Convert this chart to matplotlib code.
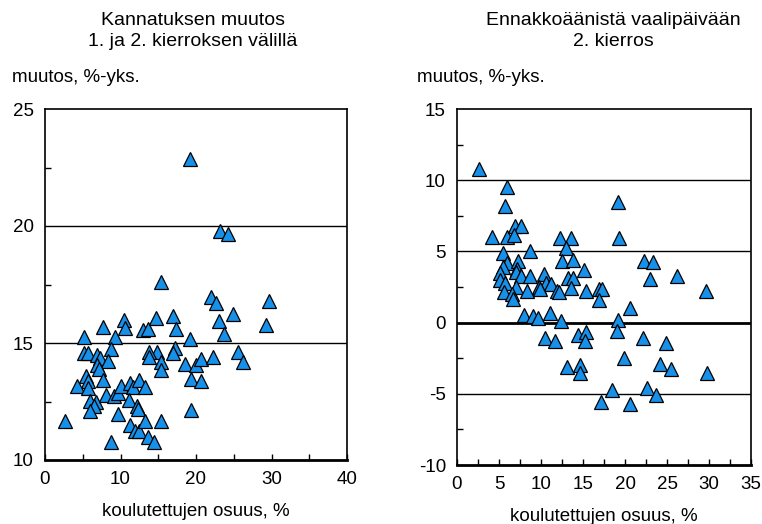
import numpy as np
import matplotlib
matplotlib.use('Agg')
import matplotlib.pyplot as plt

plt.rcParams['font.family'] = ['Liberation Sans', 'DejaVu Sans']
plt.rcParams['axes.unicode_minus'] = False

# Left panel: change in support between 1st and 2nd round
left_x = [19.2, 23.2, 24.2, 15.4, 22.0, 22.6, 29.7, 24.9, 23.1, 29.3,
          23.7, 19.2, 5.2, 7.7, 9.3, 10.5, 10.6, 13.0, 13.6, 14.7,
          16.9, 17.3, 17.2, 17.0, 14.8, 13.8, 13.8, 15.3, 15.4, 18.5,
          20.0, 20.7, 22.3, 25.5, 26.2, 19.3, 20.7, 19.3, 5.1, 5.7,
          6.9, 7.3, 8.7, 8.3, 6.9, 7.1, 5.4, 5.7, 4.2, 5.7,
          7.7, 5.9, 6.8, 6.5, 5.9, 8.1, 9.2, 9.7, 10.0, 11.2,
          11.7, 12.5, 13.3, 11.1, 12.2, 12.3, 9.7, 11.3, 11.9, 12.4,
          13.2, 15.3, 2.7, 8.7, 13.6, 14.5]
left_y = [22.87, 19.77, 19.67, 17.6, 16.97, 16.7, 16.8, 16.26, 15.94, 15.78,
          15.37, 15.18, 15.27, 15.67, 15.24, 15.97, 15.63, 15.55, 15.6, 16.05,
          16.15, 15.6, 14.77, 14.56, 14.63, 14.63, 14.42, 14.2, 13.85, 14.12,
          14.06, 14.3, 14.4, 14.63, 14.2, 13.45, 13.38, 12.13, 14.56, 14.56,
          14.47, 14.37, 14.73, 14.23, 14.06, 13.9, 13.6, 13.38, 13.17, 13.08,
          13.4, 12.53, 12.46, 12.32, 12.1, 12.78, 12.74, 12.85, 13.17, 13.27,
          13.14, 13.4, 13.1, 12.57, 12.29, 12.17, 11.96, 11.5, 11.25, 11.25,
          11.65, 11.65, 11.65, 10.75, 10.97, 10.78]

# Right panel: advance votes vs election day, 2nd round
right_x = [2.6, 5.9, 5.7, 19.2, 4.2, 5.9, 6.9, 7.6, 6.8, 12.3,
           13.6, 19.3, 13.0, 5.5, 8.7, 12.5, 13.8, 22.3, 23.3, 5.9,
           7.3, 5.5, 7.1, 7.0, 5.1, 7.6, 8.7, 10.4, 15.1, 13.2,
           13.8, 26.2, 23.0, 5.1, 5.7, 10.6, 11.2, 7.0, 9.8, 9.9,
           13.6, 5.6, 8.3, 11.9, 12.2, 15.3, 16.9, 17.3, 29.6, 6.5,
           6.7, 16.9, 20.6, 8.0, 9.1, 9.6, 11.1, 12.4, 19.2, 19.1,
           10.5, 11.7, 14.4, 15.3, 15.2, 22.1, 24.9, 19.9, 13.1, 14.7,
           14.7, 24.2, 25.5, 29.8, 18.5, 22.6, 23.7, 17.1, 20.6]
right_y = [10.8, 9.55, 8.2, 8.5, 6.0, 6.0, 6.8, 6.8, 6.18, 5.93,
           5.93, 5.93, 5.27, 4.9, 5.0, 4.36, 4.4, 4.36, 4.24, 4.17,
           4.36, 3.93, 3.77, 3.58, 3.47, 3.28, 3.28, 3.42, 3.7, 3.11,
           3.11, 3.28, 3.04, 3.0, 2.81, 2.76, 2.72, 2.53, 2.48, 2.34,
           2.46, 2.18, 2.22, 2.25, 2.18, 2.25, 2.37, 2.37, 2.25, 2.0,
           1.64, 1.6, 1.05, 0.54, 0.49, 0.3, 0.66, 0.12, 0.19, -0.59,
           -1.05, -1.26, -0.87, -0.63, -1.29, -1.05, -1.45, -2.46, -3.14, -2.97,
           -3.51, -2.9, -3.28, -3.56, -4.73, -4.61, -5.08, -5.55, -5.74]

fs = 13.5
blue = '#1790ea'

fig = plt.figure(figsize=(7.62, 5.24), dpi=100)
ax1 = fig.add_axes([45 / 762, 1 - 460 / 524, 302 / 762, 351 / 524])
ax2 = fig.add_axes([457 / 762, 1 - 465 / 524, 294 / 762, 356 / 524])


def style(ax, xlim, ylim, xmaj, xmin, ymaj, ymin, grid, lpad):
    ax.set_xlim(*xlim)
    ax.set_ylim(*ylim)
    ax.set_xticks(np.arange(xlim[0], xlim[1] + 0.01, xmaj))
    ax.set_xticks(np.arange(xlim[0], xlim[1] + 0.01, xmin), minor=True)
    ax.set_yticks(np.arange(ylim[0], ylim[1] + 0.01, ymaj))
    ax.set_yticks(np.arange(ylim[0], ylim[1] + 0.01, ymin), minor=True)
    ax.tick_params(which='both', direction='in', length=4, width=1,
                   labelsize=fs, top=False, right=False, pad=8)
    ax.tick_params(axis='y', which='major', length=0)
    for s in ax.spines.values():
        s.set_linewidth(1.2)
    ax.spines['bottom'].set_linewidth(2)
    for g in grid:
        ax.axhline(g, color='black', lw=2 if g == 0 else 1, zorder=1)
    ax.set_xlabel('koulutettujen osuus, %', fontsize=fs, labelpad=lpad)


style(ax1, (0, 40), (10, 25), 10, 5, 5, 2.5, [15, 20], 11)
style(ax2, (0, 35), (-10, 15), 5, 2.5, 5, 2.5, [-5, 0, 5, 10], 11)

ax1.plot(left_x, left_y, '^', ms=9.5, mfc=blue, mec='black', mew=0.9, zorder=3)
ax2.plot(right_x, right_y, '^', ms=9.5, mfc=blue, mec='black', mew=0.9, zorder=3)

fig.text(193 / 762, 1 - 31 / 524, 'Kannatuksen muutos\n1. ja 2. kierroksen välillä',
         ha='center', va='center', fontsize=14, linespacing=1.35)
fig.text(613 / 762, 1 - 31 / 524, 'Ennakkoäänistä vaalipäivään\n2. kierros',
         ha='center', va='center', fontsize=14, linespacing=1.35)
fig.text(12 / 762, 1 - 78 / 524, 'muutos, %-yks.', ha='left', va='center', fontsize=fs)
fig.text(417 / 762, 1 - 78 / 524, 'muutos, %-yks.', ha='left', va='center', fontsize=fs)

fig.savefig('out.png', dpi=100)
